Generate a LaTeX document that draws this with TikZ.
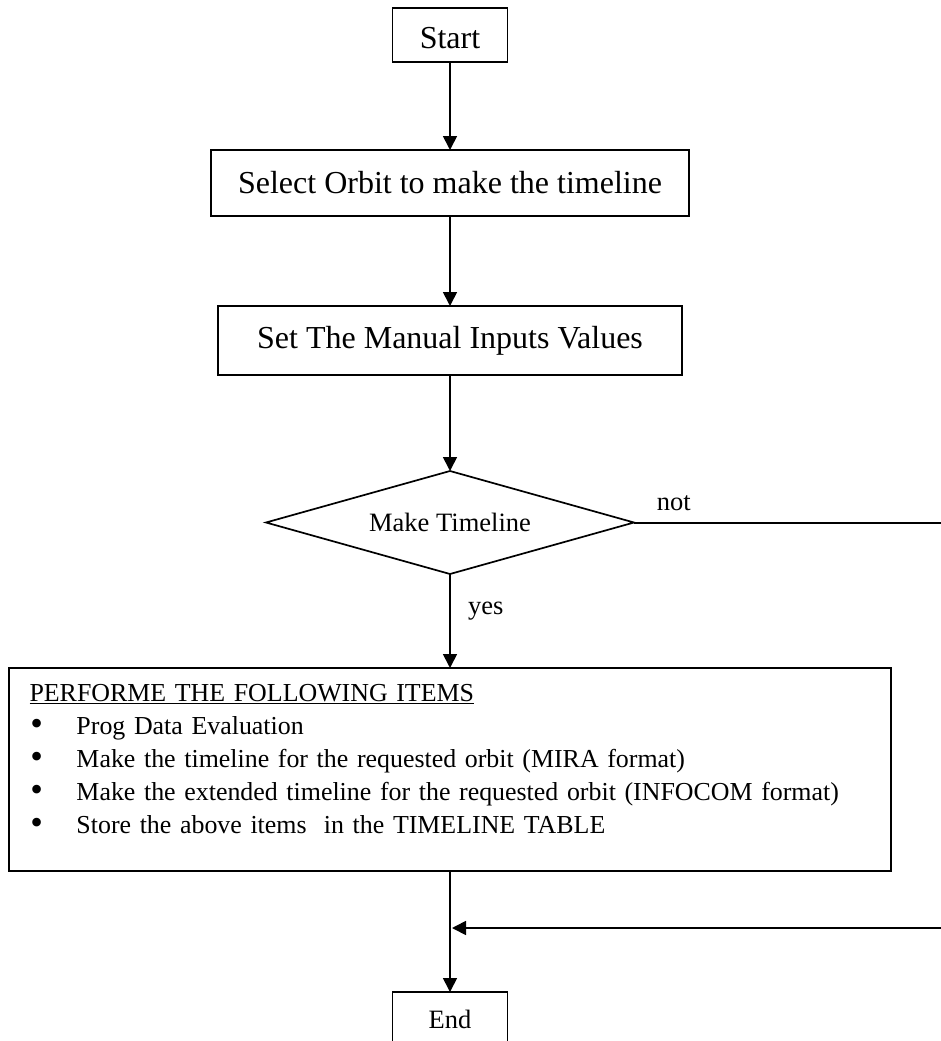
\documentclass[tikz,border=0pt]{standalone}
\usepackage{fontspec}
\setmainfont{Liberation Serif}
\usetikzlibrary{arrows.meta, positioning, shapes.geometric}

\newcommand{\bulitem}{\makebox[47pt][l]{\hspace{1pt}\raisebox{-1.5pt}{\fontsize{36}{33}\selectfont\textbullet}}}

\begin{document}
\begin{tikzpicture}[
node distance=88pt,
every node/.style={outer sep=0pt},
box/.style={rectangle, draw, line width=1.7pt, inner sep=0pt, font=\fontsize{32}{38}\selectfont},
endbox/.style={rectangle, draw, line width=1.7pt, inner sep=0pt, font=\fontsize{26.5}{32}\selectfont},
decision/.style={diamond, draw, line width=1.7pt, aspect=3.6, inner sep=0pt, minimum width=368pt, minimum height=103pt, font=\fontsize{26.5}{32}\selectfont},
itembox/.style={rectangle, draw, line width=1.7pt, text width=841pt, inner xsep=20.5pt, inner ysep=5pt, align=left, font=\fontsize{25.9}{33}\selectfont},
tag/.style={inner sep=0pt, font=\fontsize{26.5}{32}\selectfont},
arrow/.style={-{Triangle[length=14pt,width=14pt]}, line width=1.7pt},
link/.style={line width=1.8pt}
]

\useasboundingbox (0,0) rectangle (941pt,-1041pt);
\clip (0,0) rectangle (941pt,-1041pt);

\node[box, minimum width=115pt, minimum height=54pt, text height=28pt] (start) at (450pt,-35pt) {Start};
\node[box, minimum width=478pt, minimum height=66pt, below=88pt of start] (select) {Select Orbit to make the timeline};
\node[box, minimum width=464pt, minimum height=69pt, below=90pt of select] (manual) {Set The Manual Inputs Values};
\node[decision, below=96pt of manual] (decide) {Make Timeline};
\node[itembox, below=94pt of decide] (items) {\rule{0pt}{28pt}\underline{PERFORME THE FOLLOWING ITEMS}\\
\bulitem Prog Data Evaluation\\
\bulitem Make the timeline for the requested orbit (MIRA format)\\
\bulitem Make the extended timeline for the requested orbit (INFOCOM format)\\
\bulitem Store the above items\ \ in the TIMELINE TABLE\rule[-33pt]{0pt}{0pt}};
\node[endbox, minimum width=115pt, minimum height=54pt, below=121pt of items] (end) {End};

\coordinate (edge) at (941pt,0);
\coordinate (join) at ([yshift=-57pt]items.south);
\coordinate (noend) at ([yshift=-0.5pt]decide.east -| edge);
\coordinate (back) at ([xshift=2pt]join);

\draw[arrow] (start) -- (select);
\draw[arrow] (select) -- (manual);
\draw[arrow] (manual) -- (decide);
\draw[arrow] (decide) -- node[tag, pos=0.39, anchor=west, xshift=18pt] {yes} (items);
\draw[link] ([yshift=-0.5pt]decide.east) -- node[tag, pos=0.13, anchor=south, yshift=12pt] {not} (noend);
\draw[arrow] (items) -- (end);
\draw[arrow] (join -| edge) -- (back);

\end{tikzpicture}
\end{document}
